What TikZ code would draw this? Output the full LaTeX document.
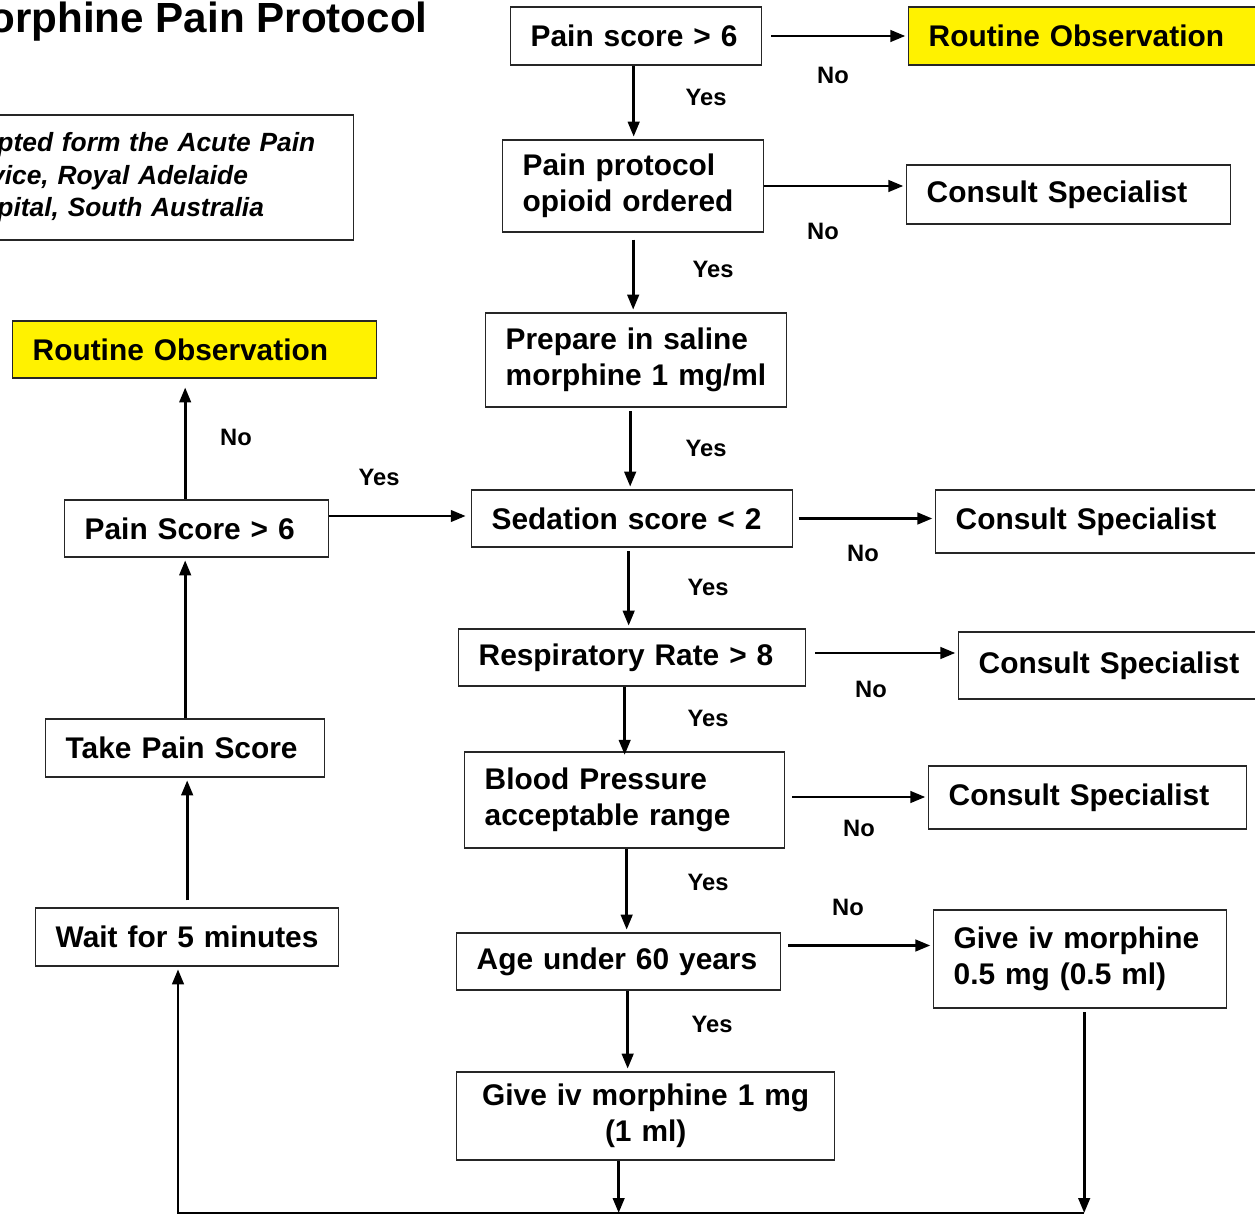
\documentclass[tikz,border=0pt]{standalone}
\usepackage{fontspec}
\setmainfont{Liberation Sans}
\usetikzlibrary{arrows.meta}

\begin{document}
\begin{tikzpicture}[
  x=0.02cm, y=-0.02cm,
  font=\fontsize{17}{20.5}\selectfont\bfseries,
  cell/.style={draw=black!85, line width=0.8pt, anchor=west, inner xsep=0.4cm, inner ysep=0pt, text width=#1, align=left},
  hilite/.style={cell=#1, fill=yellow},
  flow/.style={-{Triangle[length=8.5pt,width=6.5pt]}, line width=1.6pt, shorten >=1.5pt},
  lbl/.style={font=\fontsize{13.5}{16}\selectfont\bfseries}
]
\useasboundingbox (0,0) rectangle (1255,1216);
\clip (0,0) rectangle (1255,1216);

% heading and source note
\node[anchor=base west, inner sep=0pt, font=\fontsize{24}{28}\selectfont\bfseries] (title) at (-46,33) {Morphine Pain Protocol};
\node[cell=7.98cm, inner xsep=0.14cm, minimum height=2.5cm, font=\fontsize{15}{18.5}\selectfont\bfseries\itshape] (note) at (-60,177.5)
  {Adapted form the Acute Pain\\Service, Royal Adelaide\\Hospital, South Australia};

% main column
\node[cell=4.22cm, minimum height=1.16cm] (ps) at (510,36) {Pain score > 6};
\node[cell=4.42cm, minimum height=1.84cm] (pp) at (502,186) {Pain protocol\\opioid ordered};
\node[cell=5.22cm, minimum height=1.88cm] (prep) at (485,360) {Prepare in saline\\morphine 1 mg/ml};
\node[cell=5.62cm, minimum height=1.14cm] (sed) at (471,518.5) {Sedation score < 2};
\node[cell=6.14cm, minimum height=1.14cm] (resp) at (458,657.5) {Respiratory Rate > 8};
\node[cell=5.6cm, minimum height=1.92cm] (bp) at (464,800) {Blood Pressure\\acceptable range};
\node[cell=5.68cm, minimum height=1.14cm] (age) at (456,961.5) {Age under 60 years};
\node[cell=6.76cm, minimum height=1.76cm, align=center] (g1) at (456,1116) {Give iv morphine 1 mg\\(1 ml)};

% right column
\node[hilite=6.44cm, minimum height=1.16cm] (ro1) at (908,36) {Routine Observation};
\node[cell=5.68cm, minimum height=1.18cm] (cs1) at (906,194.5) {Consult Specialist};
\node[cell=5.9cm, minimum height=1.26cm] (cs2) at (935,521.5) {Consult Specialist};
\node[cell=5.44cm, minimum height=1.34cm] (cs3) at (958,665.5) {Consult Specialist};
\node[cell=5.56cm, minimum height=1.26cm] (cs4) at (928,797.5) {Consult Specialist};
\node[cell=5.06cm, minimum height=1.96cm] (g05) at (933,959) {Give iv morphine\\0.5 mg (0.5 ml)};

% left column
\node[hilite=6.48cm, minimum height=1.14cm] (ro2) at (12,349.5) {Routine Observation};
\node[cell=4.48cm, minimum height=1.14cm] (psl) at (64,528.5) {Pain Score > 6};
\node[cell=4.78cm, minimum height=1.16cm] (take) at (45,748) {Take Pain Score};
\node[cell=5.26cm, minimum height=1.16cm] (wait) at (35,937) {Wait for 5 minutes};

% yes branch
\draw[flow] ([xshift=-0.05cm]ps.south) -- ([xshift=-0.05cm]ps.south |- pp.north);
\draw[flow, shorten <=4pt] (pp.south) -- (pp.south |- prep.north);
\draw[flow, shorten <=2pt] ([xshift=-0.12cm]prep.south) -- ([xshift=-0.12cm]prep.south |- sed.north);
\draw[flow, shorten <=2pt] ([xshift=-0.07cm]sed.south) -- ([xshift=-0.07cm]sed.south |- resp.north);
\draw[flow, shorten >=-2pt] ([xshift=-0.15cm]resp.south) -- ([xshift=-0.15cm]resp.south |- bp.north);
\draw[flow] ([xshift=0.04cm]bp.south) -- ([xshift=0.04cm]bp.south |- age.north);
\draw[flow] ([xshift=0.18cm]age.south) -- ([xshift=0.18cm]age.south |- g1.north);

% no branch
\draw[flow, shorten <=5pt] (ps.east) -- (ps.east -| ro1.west);
\draw[flow] (pp.east) -- (pp.east -| cs1.west);
\draw[flow, shorten <=3pt] (sed.east) -- (sed.east -| cs2.west);
\draw[flow, shorten <=5pt] ([yshift=0.09cm]resp.east) -- ([yshift=0.09cm]resp.east -| cs3.west);
\draw[flow, shorten <=4pt] ([yshift=0.06cm]bp.east) -- ([yshift=0.06cm]bp.east -| cs4.west);
\draw[flow, shorten <=4pt] ([yshift=0.32cm]age.east) -- ([yshift=0.32cm]age.east -| g05.west);

% loop back
\coordinate (bl) at (178,1213);
\coordinate (br) at ([xshift=0.08cm]g05.south |- bl);
\draw[flow, shorten >=0pt] (age |- g1.south) -- (age |- bl);
\draw[flow, shorten <=2pt, shorten >=0pt] (br |- g05.south) -- (br);
\draw[flow] (br) -- (bl) -- (bl |- wait.south);
\draw[flow, shorten <=4pt] (wait.north) -- (wait.north |- take.south);
\draw[flow] (take.north) -- (take.north |- psl.south);
\draw[flow, shorten >=5pt] (take |- psl.north) -- (take |- ro2.south);
\draw[flow, shorten >=3pt] ([yshift=0.25cm]psl.east) -- ([yshift=0.25cm]psl.east -| sed.west);

% branch labels
\node[lbl] (ps-yes) at (706,97) {Yes};
\node[lbl] (ps-no) at (833,75) {No};
\node[lbl] (pp-yes) at (713,269) {Yes};
\node[lbl] (pp-no) at (823,231) {No};
\node[lbl] (prep-yes) at (706,448) {Yes};
\node[lbl] (sed-yes) at (708,587) {Yes};
\node[lbl] (sed-no) at (863,553) {No};
\node[lbl] (resp-yes) at (708,718) {Yes};
\node[lbl] (resp-no) at (871,689) {No};
\node[lbl] (bp-yes) at (708,882) {Yes};
\node[lbl] (bp-no) at (859,828) {No};
\node[lbl] (age-yes) at (712,1024) {Yes};
\node[lbl] (age-no) at (848,907) {No};
\node[lbl] (psl-yes) at (379,477) {Yes};
\node[lbl] (psl-no) at (236,437) {No};
\end{tikzpicture}
\end{document}
